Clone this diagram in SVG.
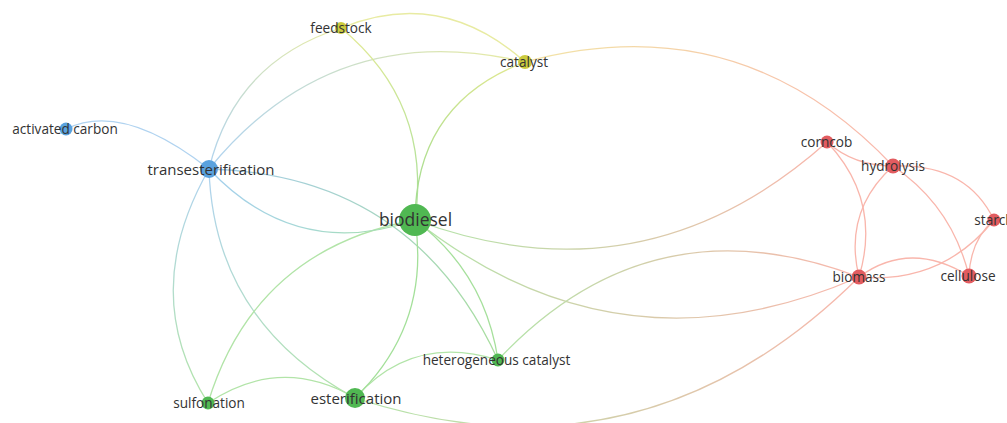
<svg xmlns="http://www.w3.org/2000/svg" width="1007" height="423" viewBox="0 0 1007 423">
<style>
  .e{fill:none;stroke-linecap:round;stroke-width:1.3}
  .b{stroke:#b0d3f0}
  .g{stroke:#b2e4a8}
  .y{stroke:#e8eba2}
  .r{stroke:#f9b6ac}
  .lbl{font-family:"Open Sans","Liberation Sans",sans-serif;fill:#333;text-anchor:middle;font-size:13.6px}
  .md{font-size:15px}
  .lg{font-size:17.5px}
  .nb{fill:#5aa2de}
  .ng{fill:#50b852}
  .ny{fill:#cbcb3e}
  .nr{fill:#e25c60}
</style>
<defs>
  <linearGradient id="ts-fs" gradientUnits="userSpaceOnUse" x1="209" y1="169" x2="341" y2="28"><stop offset="0" stop-color="#b0d3f0"/><stop offset="1" stop-color="#e8eba2"/></linearGradient>
  <linearGradient id="ts-ca" gradientUnits="userSpaceOnUse" x1="209" y1="169" x2="525" y2="62"><stop offset="0" stop-color="#b0d3f0"/><stop offset="1" stop-color="#e8eba2"/></linearGradient>
  <linearGradient id="ts-bd" gradientUnits="userSpaceOnUse" x1="209" y1="169" x2="415" y2="220"><stop offset="0" stop-color="#a4cfee"/><stop offset="0.5" stop-color="#a6d8d6"/><stop offset="1" stop-color="#a6e0a4"/></linearGradient>
  <linearGradient id="ts-su" gradientUnits="userSpaceOnUse" x1="209" y1="169" x2="208" y2="403"><stop offset="0" stop-color="#b0d3f0"/><stop offset="1" stop-color="#b2e4a8"/></linearGradient>
  <linearGradient id="ts-es" gradientUnits="userSpaceOnUse" x1="209" y1="169" x2="355" y2="398"><stop offset="0" stop-color="#b0d3f0"/><stop offset="1" stop-color="#b2e4a8"/></linearGradient>
  <linearGradient id="ts-hc" gradientUnits="userSpaceOnUse" x1="209" y1="169" x2="498" y2="360"><stop offset="0" stop-color="#a4cce8"/><stop offset="1" stop-color="#a8de9c"/></linearGradient>
  <linearGradient id="fs-bd" gradientUnits="userSpaceOnUse" x1="341" y1="28" x2="415" y2="220"><stop offset="0" stop-color="#e4ea96"/><stop offset="1" stop-color="#a8e09a"/></linearGradient>
  <linearGradient id="ca-bd" gradientUnits="userSpaceOnUse" x1="525" y1="62" x2="415" y2="220"><stop offset="0" stop-color="#e2e88e"/><stop offset="1" stop-color="#a0dc92"/></linearGradient>
  <linearGradient id="ca-hy" gradientUnits="userSpaceOnUse" x1="525" y1="62" x2="893" y2="166"><stop offset="0" stop-color="#f2e4a6"/><stop offset="1" stop-color="#f9b6ac"/></linearGradient>
  <linearGradient id="bd-cc" gradientUnits="userSpaceOnUse" x1="415" y1="220" x2="827" y2="142"><stop offset="0" stop-color="#b2e4a8"/><stop offset="1" stop-color="#f9b6ac"/></linearGradient>
  <linearGradient id="bd-bm" gradientUnits="userSpaceOnUse" x1="415" y1="220" x2="859" y2="277"><stop offset="0" stop-color="#b2e4a8"/><stop offset="1" stop-color="#f9b6ac"/></linearGradient>
  <linearGradient id="es-bm" gradientUnits="userSpaceOnUse" x1="355" y1="398" x2="859" y2="277"><stop offset="0" stop-color="#b2e4a8"/><stop offset="1" stop-color="#f9b6ac"/></linearGradient>
  <linearGradient id="hc-bm" gradientUnits="userSpaceOnUse" x1="498" y1="360" x2="859" y2="277"><stop offset="0" stop-color="#b2e4a8"/><stop offset="1" stop-color="#f9b6ac"/></linearGradient>
</defs>
<rect width="1007" height="423" fill="#fff"/>
<g id="connectors">
  <path class="e b" d="M66,129 Q122.5,101 209,169"/>
  <path class="e" stroke="url(#ts-fs)" d="M209,169 Q235,61.5 341,28"/>
  <path class="e" stroke="url(#ts-ca)" d="M209,169 Q333,16.5 525,62"/>
  <path class="e" stroke="url(#ts-su)" d="M209,169 Q138,293.5 208,403"/>
  <path class="e" stroke="url(#ts-es)" d="M209,169 Q214,322 355,398"/>
  <path class="e" stroke="url(#ts-hc)" stroke-width="1.6" d="M209,169 Q413,174.5 498,360"/>
  <path class="e y" d="M341,28 Q441,-13 525,62"/>
  <path class="e" stroke="url(#fs-bd)" stroke-width="1.7" d="M341,28 Q432,103 415,220"/>
  <path class="e" stroke="url(#ca-bd)" stroke-width="2.3" d="M525,62 Q416,103 415,220"/>
  <path class="e" stroke="url(#ca-hy)" d="M525,62 Q740,4 893,166"/>
  <path class="e" stroke="url(#bd-cc)" stroke-width="1.5" d="M415,220 Q644,305 827,142"/>
  <path class="e" stroke="url(#bd-bm)" stroke-width="1.5" d="M415,220 Q620,381.5 859,277"/>
  <path class="e g" stroke-width="1.6" d="M415,220 Q255,249 208,403"/>
  <path class="e g" stroke-width="1.6" d="M355,398 Q413,333 498,360"/>
  <path class="e g" stroke-width="1.6" d="M355,398 Q281,354.5 208,403"/>
  <path class="e" stroke="url(#es-bm)" d="M355,398 Q643,492 859,277"/>
  <path class="e" stroke="url(#hc-bm)" d="M498,360 Q650,197.5 859,277"/>
  <path class="e" stroke="url(#ts-bd)" stroke-width="3.4" d="M209,169 Q296,261.5 415,220"/>
  <path class="e" stroke="#a4e09a" stroke-width="3" d="M415,220 Q431,325 355,398"/>
  <path class="e" stroke="#a6e09c" stroke-width="2.6" d="M415,220 Q485,273 498,360"/>
  <path class="e r" stroke-width="1.8" d="M827,142 Q854,166 893,166"/>
  <path class="e r" d="M827,142 Q882,200.5 859,277"/>
  <path class="e r" d="M893,166 Q843,211.5 859,277"/>
  <path class="e r" d="M893,166 Q966.5,163 994,220"/>
  <path class="e r" d="M893,166 Q952,206 969,276"/>
  <path class="e r" d="M994,220 Q970.5,240 969,276"/>
  <path class="e r" d="M994,220 Q941.5,284.5 859,277"/>
  <path class="e r" d="M859,277 Q910,239.5 969,276"/>
</g>
<g id="node-activated-carbon"><circle class="nb" cx="66" cy="129" r="6.5"/><text class="lbl" x="65" y="134">activated carbon</text></g>
<g id="node-transesterification"><circle class="nb" cx="209" cy="169" r="9" fill="#5298d6"/><text class="lbl md" x="211" y="175">transesterification</text></g>
<g id="node-feedstock"><circle class="ny" cx="341" cy="28" r="6"/><text class="lbl" x="341" y="33">feedstock</text></g>
<g id="node-catalyst"><circle class="ny" cx="525" cy="62" r="7"/><text class="lbl" x="524" y="67">catalyst</text></g>
<g id="node-biodiesel"><circle class="ng" cx="415" cy="220" r="16" fill="#56bb56"/><text class="lbl lg" x="415.5" y="226">biodiesel</text></g>
<g id="node-heterogeneous-catalyst"><circle class="ng" cx="498" cy="360" r="6.5"/><text class="lbl" x="496.5" y="365">heterogeneous catalyst</text></g>
<g id="node-sulfonation"><circle class="ng" cx="208" cy="403" r="6.5"/><text class="lbl" x="209" y="408">sulfonation</text></g>
<g id="node-esterification"><circle class="ng" cx="355" cy="398" r="10"/><text class="lbl md" x="356" y="404">esterification</text></g>
<g id="node-corncob"><circle class="nr" cx="827" cy="142" r="6.5"/><text class="lbl" x="826.5" y="147">corncob</text></g>
<g id="node-hydrolysis"><circle class="nr" cx="893" cy="166" r="7.5"/><text class="lbl" x="893" y="171">hydrolysis</text></g>
<g id="node-starch"><circle class="nr" cx="994" cy="220" r="6.5"/><text class="lbl" x="994" y="225">starch</text></g>
<g id="node-biomass"><circle class="nr" cx="859" cy="277" r="7.5"/><text class="lbl" x="859" y="282">biomass</text></g>
<g id="node-cellulose"><circle class="nr" cx="969" cy="276" r="7.5"/><text class="lbl" x="968" y="281">cellulose</text></g>
</svg>
